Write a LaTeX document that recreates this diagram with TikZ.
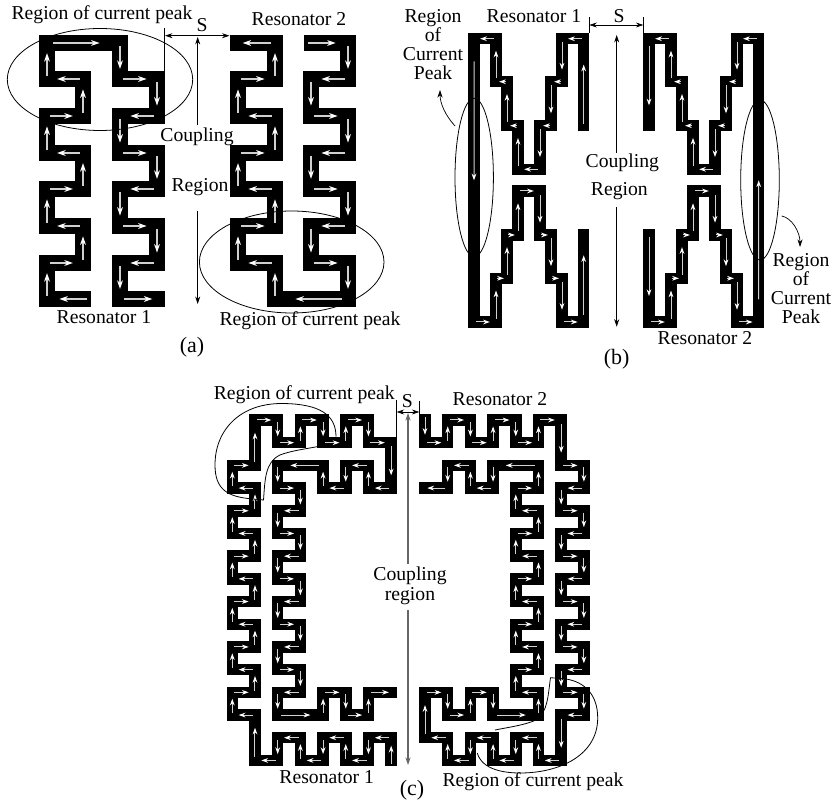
\documentclass[tikz,border=0pt]{standalone}
\usepackage{fontspec}
\setmainfont{Liberation Serif}
\usepackage{xcolor}
\usetikzlibrary{arrows.meta, calc}
\definecolor{current-gray}{HTML}{D0D0D0}

\tikzset{
    strip/.style={line width=0.23cm, black, line join=miter, line cap=butt},
    current/.style={line width=0.02cm, current-gray, -{Stealth[length=0.135cm,width=0.095cm,color=white]}},
    currentbig/.style={line width=0.024cm, current-gray, -{Stealth[length=0.17cm,width=0.115cm,color=white]}},
    dimline/.style={line width=0.4pt, black, -{Stealth[length=0.15cm,width=0.1cm]}},
    dimboth/.style={line width=0.4pt, black, {Stealth[length=0.15cm,width=0.1cm]}-{Stealth[length=0.15cm,width=0.1cm]}},
    thinline/.style={line width=0.45pt, black},
    label/.style={inner sep=0pt, font=\fontsize{11.2}{10.8}\selectfont, align=center},
    sublabel/.style={inner sep=0pt, font=\fontsize{12.5}{14}\selectfont}
}

% Strip along a list of points, with one current arrow on each segment
\newcommand{\meander}[3]{
    \draw[strip] (#1,#2) \foreach \x/\y in {#3} { -- (\x,\y) };
    \foreach \xb/\yb [remember=\xb as \xa (initially #1), remember=\yb as \ya (initially #2)] in {#3} {
        \pgfmathsetmacro{\fr}{(veclen(\xb-\xa,\yb-\ya)>200)?0.5:0.72}
        \draw[current] ($(\xa,\ya)!0.08!(\xb,\yb)$) -- ($(\xa,\ya)!\fr!(\xb,\yb)$);
    }
}

\begin{document}
\begin{tikzpicture}[x=0.02cm, y=-0.02cm]
    \useasboundingbox (0,0) rectangle (831,803);

    % ---- (a) ----
    \begin{scope}[strip/.append style={line width=0.306cm}, current/.style={currentbig}]
        \meander{91}{299}{47/299, 47/263, 83/263, 83/226, 47/226, 47/189, 83/189, 83/153, 47/153, 47/116, 83/116, 83/79, 47/79, 47/43, 120/43, 120/79, 157/79, 157/116, 120/116, 120/153, 157/153, 157/189, 120/189, 120/226, 157/226, 157/263, 120/263, 120/299, 165/299}
        \meander{304}{43}{348/43, 348/79, 311/79, 311/116, 348/116, 348/153, 311/153, 311/189, 348/189, 348/226, 311/226, 311/263, 348/263, 348/299, 275/299, 275/263, 238/263, 238/226, 275/226, 275/189, 238/189, 238/153, 275/153, 275/116, 238/116, 238/79, 275/79, 275/43, 230/43}
    \end{scope}

    % Regions of current peak
    \draw[thinline] (100,79.5) ellipse [x radius=92.7, y radius=51];
    \draw[thinline] (291.7,262) ellipse [x radius=92.3, y radius=51];

    % Spacing and coupling
    \coordinate (sleftatop) at (164.5,28);
    \coordinate (sleftabot) at (164.5,72);
    \coordinate (slefta) at (165,35.7);
    \coordinate (srighta) at (229.5,35.7);
    \coordinate (coupatop) at (197.7,37);
    \coordinate (coupaend) at (197.7,125);
    \coordinate (coupbstart) at (197.7,211);
    \coordinate (coupbend) at (197.7,304);
    \draw[thinline] (sleftatop) -- (sleftabot);
    \draw[dimboth] (slefta) -- (srighta);
    \draw[dimline] (coupaend) -- (coupatop);
    \draw[dimline] (coupbstart) -- (coupbend);

    \node[label] (peakaa) at (102,15) {Region of current peak};
    \node[label] (peakab) at (310,321) {Region of current peak};
    \node[label] (resaa) at (104,317) {Resonator 1};
    \node[label] (resab) at (299,19) {Resonator 2};
    \node[label] (sa) at (202,25) {S};
    \node[label] (coupa) at (197,137) {Coupling};
    \node[label] (rega) at (200,187) {Region};
    \node[sublabel] (suba) at (192,347) {(a)};

    % ---- (b) ----
    \meander{583.7}{131.3}{583.7/38.7, 562/38.7, 562/81.7, 551/81.7, 551/125.7, 540/125.7, 540/169.3, 518/169.3, 518/125.7, 507/125.7, 507/81.7, 496/81.7, 496/38.7, 474/38.7, 474/322, 496/322, 496/278.3, 507/278.3, 507/235, 518/235, 518/191, 540/191, 540/235, 551/235, 551/278.3, 562/278.3, 562/322, 583.7/322, 583.7/229.3}
    \meander{649}{229.3}{649/322, 671/322, 671/278.3, 682/278.3, 682/235, 693/235, 693/191, 715/191, 715/235, 726/235, 726/278.3, 737/278.3, 737/322, 758.7/322, 758.7/38.7, 737/38.7, 737/81.7, 726/81.7, 726/125.7, 715/125.7, 715/169.3, 693/169.3, 693/125.7, 682/125.7, 682/81.7, 671/81.7, 671/38.7, 649/38.7, 649/131.3}

    % Regions of current peak
    \draw[thinline] (474.2,177.5) ellipse [x radius=19.2, y radius=79.2];
    \draw[thinline] (760,180) ellipse [x radius=19.3, y radius=80];
    \coordinate (peakbstart) at (455,126);
    \coordinate (peakbend) at (440,90);
    \coordinate (peakcstart) at (781.7,216);
    \coordinate (peakcend) at (800,247);
    \draw[dimline] (peakbstart) .. controls (445,115) and (440,103) .. (peakbend);
    \draw[dimline] (peakcstart) .. controls (792,218) and (800,232) .. (peakcend);

    % Spacing and coupling
    \coordinate (sleftbtop) at (589.3,17);
    \coordinate (sleftbbot) at (589.3,33);
    \coordinate (srightbtop) at (643.3,17);
    \coordinate (srightbbot) at (643.3,33);
    \coordinate (sleftb) at (589.3,25);
    \coordinate (srightb) at (643.3,25);
    \coordinate (coupctop) at (616.7,35);
    \coordinate (coupcend) at (616.7,152.7);
    \coordinate (coupdstart) at (616.7,207);
    \coordinate (coupdend) at (616.7,326.7);
    \draw[thinline] (sleftbtop) -- (sleftbbot);
    \draw[thinline] (srightbtop) -- (srightbbot);
    \draw[dimboth] (sleftb) -- (srightb);
    \draw[dimline] (coupcend) -- (coupctop);
    \draw[dimline] (coupdstart) -- (coupdend);

    \node[label] (peakba) at (433,44.5) {Region\\of\\Current\\Peak};
    \node[label] (peakbb) at (801,288.5) {Region\\of\\Current\\Peak};
    \node[label] (resba) at (534,15.7) {Resonator 1};
    \node[label] (resbb) at (705,338) {Resonator 2};
    \node[label] (sb) at (619,15.7) {S};
    \node[label] (coupb) at (622.3,163) {Coupling};
    \node[label] (regb) at (619.3,191) {Region};
    \node[sublabel] (subb) at (616.7,359) {(b)};

    % ---- (c) ----
    \begin{scope}[shift={(232.3,420)}, x=0.454cm, y=-0.454cm]
        \meander{7}{15.25}{7/14, 6/14, 6/15, 5/15, 5/14, 4/14, 4/15, 3/15, 3/14, 2/14, 2/15, 1/15, 1/13, 0/13, 0/12, 1/12, 1/11, 0/11, 0/10, 1/10, 1/9, 0/9, 0/8, 1/8, 1/7, 0/7, 0/6, 1/6, 1/5, 0/5, 0/4, 1/4, 1/3, 0/3, 0/2, 1/2, 1/0, 2/0, 2/1, 3/1, 3/0, 4/0, 4/1, 5/1, 5/0, 6/0, 6/1, 7/1, 7/3, 6/3, 6/2, 5/2, 5/3, 4/3, 4/2, 2/2, 2/3, 3/3, 3/4, 2/4, 2/5, 3/5, 3/6, 2/6, 2/7, 3/7, 3/8, 2/8, 2/9, 3/9, 3/10, 2/10, 2/11, 3/11, 3/12, 2/12, 2/13, 4/13, 4/12, 5/12, 5/13, 6/13, 6/12, 7.25/12}
    \end{scope}
    \begin{scope}[shift={(425,420)}, x=0.454cm, y=-0.454cm]
        \meander{0}{-0.25}{0/1, 1/1, 1/0, 2/0, 2/1, 3/1, 3/0, 4/0, 4/1, 5/1, 5/0, 6/0, 6/2, 7/2, 7/3, 6/3, 6/4, 7/4, 7/5, 6/5, 6/6, 7/6, 7/7, 6/7, 6/8, 7/8, 7/9, 6/9, 6/10, 7/10, 7/11, 6/11, 6/12, 7/12, 7/13, 6/13, 6/15, 5/15, 5/14, 4/14, 4/15, 3/15, 3/14, 2/14, 2/15, 1/15, 1/14, 0/14, 0/12, 1/12, 1/13, 2/13, 2/12, 3/12, 3/13, 5/13, 5/12, 4/12, 4/11, 5/11, 5/10, 4/10, 4/9, 5/9, 5/8, 4/8, 4/7, 5/7, 5/6, 4/6, 4/5, 5/5, 5/4, 4/4, 4/3, 5/3, 5/2, 3/2, 3/3, 2/3, 2/2, 1/2, 1/3, -0.25/3}
    \end{scope}

    % Regions of current peak
    \draw[thinline] (336,436.7) .. controls (336,415) and (320,404) .. (283,403.5) .. controls (240,403) and (215,430) .. (215,465) .. controls (215,490) and (228,497) .. (253,499) -- (263.5,500) .. controls (265,480) and (265,462) .. (280,455) .. controls (290,451) and (305,449) .. (317,446.7);
    \draw[thinline] (477.3,753) .. controls (482,770) and (505,773) .. (520,773) .. controls (560,773) and (597.7,755) .. (597.7,718) .. controls (597.7,695) and (585,682) .. (566,679) -- (550.5,677.7) .. controls (548,695) and (548,712) .. (536,720) .. controls (525,725) and (510,727) .. (495,730);

    % Spacing and coupling
    \coordinate (sleftctop) at (396.7,400);
    \coordinate (sleftcbot) at (396.7,437);
    \coordinate (srightctop) at (419.3,401);
    \coordinate (srightcbot) at (419.3,414);
    \coordinate (sleftc) at (396.7,412);
    \coordinate (srightc) at (419.3,412);
    \coordinate (coupetop) at (408,413);
    \coordinate (coupeend) at (408,564);
    \coordinate (coupfstart) at (408,610);
    \coordinate (coupfend) at (408,765);
    \draw[thinline] (sleftctop) -- (sleftcbot);
    \draw[thinline] (srightctop) -- (srightcbot);
    \draw[dimboth] (sleftc) -- (srightc);
    \draw[dimline, black!60, line width=0.03cm] (coupeend) -- (coupetop);
    \draw[dimline, black!60, line width=0.03cm] (coupfstart) -- (coupfend);

    \node[label] (peakca) at (304.3,395) {Region of current peak};
    \node[label] (peakcb) at (533,781.7) {Region of current peak};
    \node[label] (resca) at (326.7,776.7) {Resonator 1};
    \node[label] (rescb) at (500,399.3) {Resonator 2};
    \node[label] (sc) at (407.3,401) {S};
    \node[label, font=\fontsize{11.2}{11.4}\selectfont] (coupc) at (410,586) {Coupling\\region};
    \node[sublabel] (subc) at (412,790) {(c)};
\end{tikzpicture}
\end{document}
